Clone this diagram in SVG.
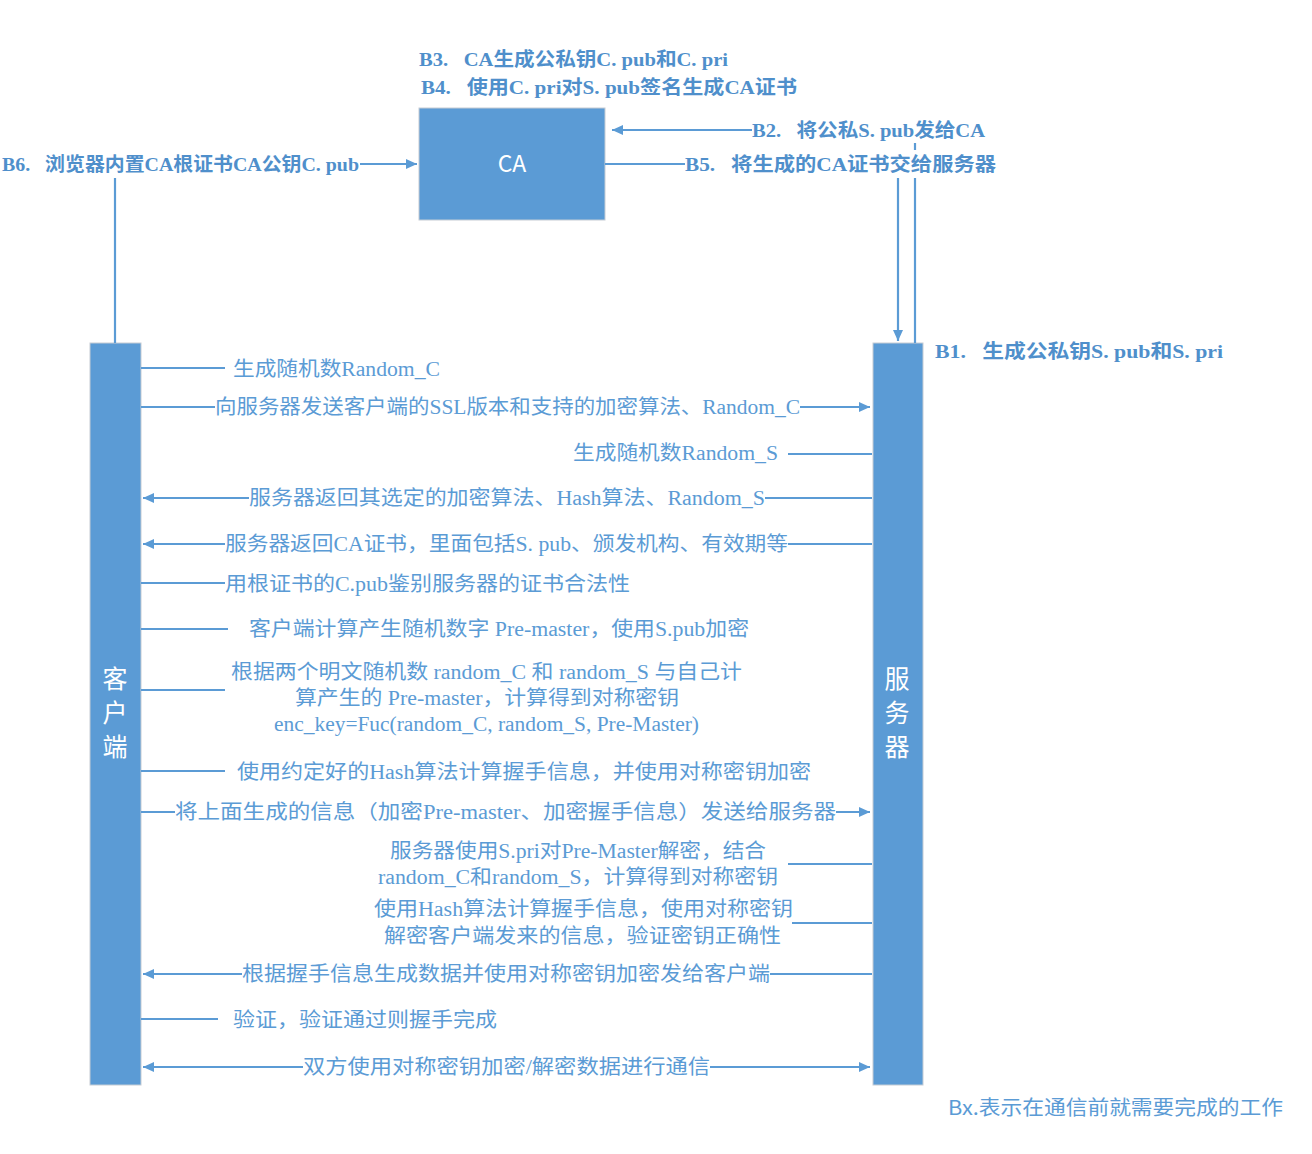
<svg xmlns="http://www.w3.org/2000/svg" width="1312" height="1154" viewBox="0 0 1312 1154">
<style>
.bar{fill:#5b9bd5;stroke:#c5ccd4;stroke-width:1}
.ln{stroke:#5b9bd5;stroke-width:2.2;fill:none}
.t{font-family:"Liberation Serif","Noto Sans CJK SC",serif;font-size:20px;fill:#5b9bd5}
.b{font-family:"Liberation Serif","Noto Sans CJK SC",serif;font-size:19px;fill:#4f8fcb;font-weight:600}
.w{font-family:"Noto Sans CJK SC","Liberation Sans",sans-serif;font-size:25px;fill:#ffffff;text-anchor:middle}
.ft{font-family:"Noto Sans CJK SC","Liberation Sans",sans-serif;font-size:20px;fill:#5b9bd5}
</style>
<defs>
<marker id="ah" markerUnits="userSpaceOnUse" markerWidth="12" markerHeight="12" viewBox="0 0 12 12" refX="11" refY="6" orient="auto">
<path d="M0,1 L11,6 L0,11 z" fill="#5b9bd5"/>
</marker>
</defs>
<rect width="1312" height="1154" fill="#ffffff"/>

<g id="ca">
<rect x="419" y="108" width="186" height="112" class="bar"/>
<text x="512" y="172" class="w" style="font-size:23px">CA</text>
</g>
<g id="client">
<rect x="90" y="343" width="51" height="742" class="bar"/>
<text x="115" y="688" class="w">客</text>
<text x="115" y="722" class="w">户</text>
<text x="115" y="756" class="w">端</text>
</g>
<g id="server">
<rect x="873" y="343" width="50" height="742" class="bar"/>
<text x="897" y="688" class="w">服</text>
<text x="897" y="722" class="w">务</text>
<text x="897" y="756" class="w">器</text>
</g>

<g id="connectors">
<line x1="360" y1="164" x2="417" y2="164" class="ln" marker-end="url(#ah)"/>
<line x1="752" y1="130" x2="612" y2="130" class="ln" marker-end="url(#ah)"/>
<line x1="605" y1="164" x2="685" y2="164" class="ln"/>
<line x1="115" y1="178" x2="115" y2="343" class="ln"/>
<line x1="898" y1="178" x2="898" y2="341" class="ln" marker-end="url(#ah)"/>
<line x1="915" y1="178" x2="915" y2="343" class="ln"/>
<line x1="915" y1="143" x2="915" y2="150" class="ln"/>

<line x1="141" y1="368" x2="225" y2="368" class="ln"/>
<line x1="141" y1="407" x2="215" y2="407" class="ln"/>
<line x1="800" y1="407" x2="870" y2="407" class="ln" marker-end="url(#ah)"/>
<line x1="788" y1="454" x2="872" y2="454" class="ln"/>
<line x1="872" y1="498" x2="765" y2="498" class="ln"/>
<line x1="249" y1="498" x2="143" y2="498" class="ln" marker-end="url(#ah)"/>
<line x1="872" y1="544" x2="788" y2="544" class="ln"/>
<line x1="225" y1="544" x2="143" y2="544" class="ln" marker-end="url(#ah)"/>
<line x1="141" y1="583" x2="225" y2="583" class="ln"/>
<line x1="141" y1="629" x2="228" y2="629" class="ln"/>
<line x1="141" y1="690" x2="225" y2="690" class="ln"/>
<line x1="141" y1="771" x2="225" y2="771" class="ln"/>
<line x1="141" y1="812" x2="175" y2="812" class="ln"/>
<line x1="836" y1="812" x2="870" y2="812" class="ln" marker-end="url(#ah)"/>
<line x1="788" y1="864" x2="872" y2="864" class="ln"/>
<line x1="792" y1="923" x2="872" y2="923" class="ln"/>
<line x1="872" y1="974" x2="770" y2="974" class="ln"/>
<line x1="242" y1="974" x2="143" y2="974" class="ln" marker-end="url(#ah)"/>
<line x1="141" y1="1019" x2="218" y2="1019" class="ln"/>
<line x1="303" y1="1067" x2="143" y2="1067" class="ln" marker-end="url(#ah)"/>
<line x1="710" y1="1067" x2="870" y2="1067" class="ln" marker-end="url(#ah)"/>
</g>

<g id="labels">
<text x="419" y="66" class="b" textLength="309" lengthAdjust="spacingAndGlyphs">B3.&#160;&#160; CA生成公私钥C. pub和C. pri</text>
<text x="421" y="94" class="b" textLength="376" lengthAdjust="spacingAndGlyphs">B4.&#160;&#160; 使用C. pri对S. pub签名生成CA证书</text>
<text x="752" y="137" class="b" textLength="233" lengthAdjust="spacingAndGlyphs">B2.&#160;&#160; 将公私S. pub发给CA</text>
<text x="685" y="171" class="b" textLength="311" lengthAdjust="spacingAndGlyphs">B5.&#160;&#160; 将生成的CA证书交给服务器</text>
<text x="2" y="171" class="b" textLength="357" lengthAdjust="spacingAndGlyphs">B6.&#160;&#160; 浏览器内置CA根证书CA公钥C. pub</text>
<text x="935" y="358" class="b" textLength="288" lengthAdjust="spacingAndGlyphs">B1.&#160;&#160; 生成公私钥S. pub和S. pri</text>

<text x="233" y="376" class="t" textLength="207" lengthAdjust="spacingAndGlyphs">生成随机数Random_C</text>
<text x="215" y="414" class="t" textLength="585" lengthAdjust="spacingAndGlyphs">向服务器发送客户端的SSL版本和支持的加密算法、Random_C</text>
<text x="573" y="460" class="t" textLength="205" lengthAdjust="spacingAndGlyphs">生成随机数Random_S</text>
<text x="249" y="505" class="t" textLength="516" lengthAdjust="spacingAndGlyphs">服务器返回其选定的加密算法、Hash算法、Random_S</text>
<text x="225" y="551" class="t" textLength="563" lengthAdjust="spacingAndGlyphs">服务器返回CA证书，里面包括S. pub、颁发机构、有效期等</text>
<text x="225" y="591" class="t" textLength="405" lengthAdjust="spacingAndGlyphs">用根证书的C.pub鉴别服务器的证书合法性</text>
<text x="249" y="636" class="t" textLength="500" lengthAdjust="spacingAndGlyphs">客户端计算产生随机数字 Pre-master，使用S.pub加密</text>
<text x="231" y="679" class="t" textLength="511" lengthAdjust="spacingAndGlyphs">根据两个明文随机数 random_C 和 random_S 与自己计</text>
<text x="295" y="705" class="t" textLength="384" lengthAdjust="spacingAndGlyphs">算产生的 Pre-master，计算得到对称密钥</text>
<text x="274" y="731" class="t" textLength="425" lengthAdjust="spacingAndGlyphs">enc_key=Fuc(random_C, random_S, Pre-Master)</text>
<text x="237" y="779" class="t" textLength="574" lengthAdjust="spacingAndGlyphs">使用约定好的Hash算法计算握手信息，并使用对称密钥加密</text>
<text x="175" y="819" class="t" textLength="661" lengthAdjust="spacingAndGlyphs">将上面生成的信息（加密Pre-master、加密握手信息）发送给服务器</text>
<text x="390" y="858" class="t" textLength="376" lengthAdjust="spacingAndGlyphs">服务器使用S.pri对Pre-Master解密，结合</text>
<text x="378" y="884" class="t" textLength="400" lengthAdjust="spacingAndGlyphs">random_C和random_S，计算得到对称密钥</text>
<text x="374" y="916" class="t" textLength="419" lengthAdjust="spacingAndGlyphs">使用Hash算法计算握手信息，使用对称密钥</text>
<text x="384" y="943" class="t" textLength="397" lengthAdjust="spacingAndGlyphs">解密客户端发来的信息，验证密钥正确性</text>
<text x="242" y="981" class="t" textLength="528" lengthAdjust="spacingAndGlyphs">根据握手信息生成数据并使用对称密钥加密发给客户端</text>
<text x="233" y="1027" class="t" textLength="264" lengthAdjust="spacingAndGlyphs">验证，验证通过则握手完成</text>
<text x="303" y="1074" class="t" textLength="407" lengthAdjust="spacingAndGlyphs">双方使用对称密钥加密/解密数据进行通信</text>
<text x="948" y="1115" class="ft" textLength="335" lengthAdjust="spacingAndGlyphs">Bx.表示在通信前就需要完成的工作</text>
</g>
</svg>
